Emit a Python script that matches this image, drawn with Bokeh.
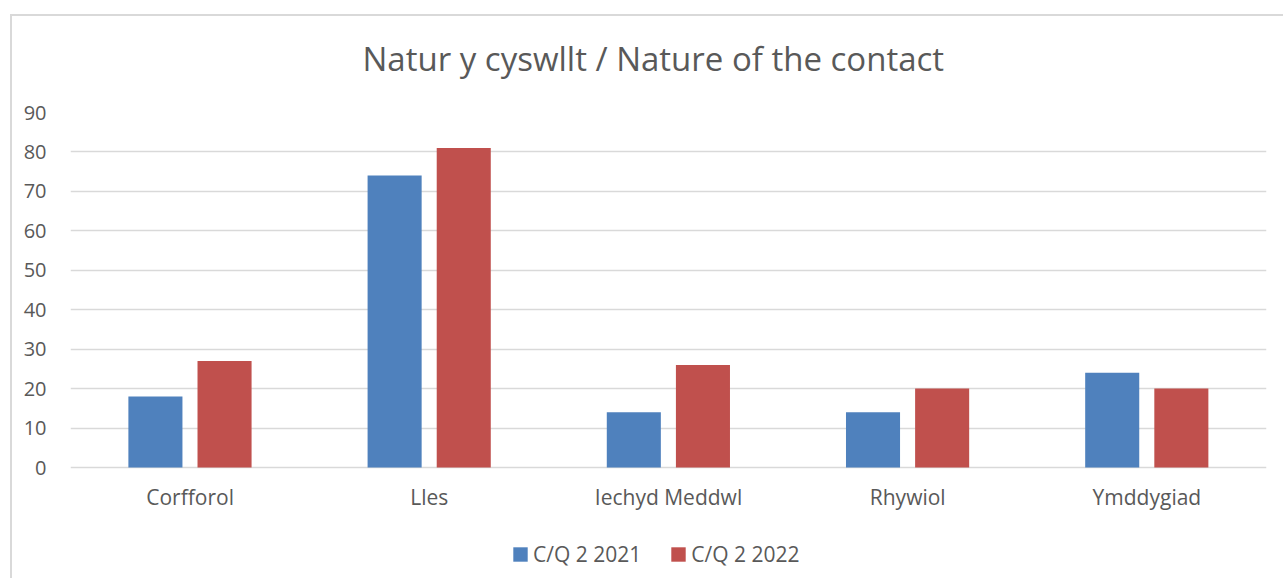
from bokeh.plotting import figure
from bokeh.models import (ColumnDataSource, FactorRange, Range1d, FixedTicker,
                          Legend, LegendItem)
from bokeh.transform import dodge
from bokeh.embed import file_html
from bokeh.resources import INLINE

categories = ["Corfforol", "Lles", "Iechyd Meddwl", "Rhywiol", "Ymddygiad"]
series_names = ["C/Q 2 2021", "C/Q 2 2022"]
values_2021 = [18, 74, 14, 14, 24]
values_2022 = [27, 81, 26, 20, 20]
y_ticks = [0, 10, 20, 30, 40, 50, 60, 70, 80, 90]
title_text = "Natur y cyswllt / Nature of the contact"

FONT = "Open Sans"
TXT = "#595959"
BLUE = "#4F81BD"
RED = "#C0504D"

source = ColumnDataSource(dict(cat=categories, a=values_2021, b=values_2022))

W, H = 1283, 578
TOP = 112            # pixel of value 90
ZERO = 467           # pixel of value 0
per_unit = (ZERO - TOP) / 90.0
y_start = -(H - ZERO) / per_unit   # frame runs to the bottom edge

p = figure(width=W, height=H, x_range=FactorRange(*categories, range_padding=0),
           y_range=Range1d(y_start, 90), output_backend="svg",
           toolbar_location=None,
           min_border_left=70, min_border_right=17, min_border_top=TOP,
           min_border_bottom=0, title=title_text)
p.outline_line_color = None
p.background_fill_color = None
p.border_fill_color = None
line = "linear-gradient(#d9d9d9, #d9d9d9)"
p.styles = {
    "background": f"{line} 10px 14px / 2px 100% no-repeat, "
                  f"{line} 10px 14px / 100% 2px no-repeat, white",
}

p.title.align = "left"
p.title.offset = 292
p.title.standoff = 63
p.title.text_font = FONT
p.title.text_font_size = "33px"
p.title.text_font_style = "normal"
p.title.text_color = TXT

r1 = p.vbar(x=dodge("cat", -0.145, range=p.x_range), top="a", width=0.226,
            source=source, fill_color=BLUE, line_color=None)
r2 = p.vbar(x=dodge("cat", 0.144, range=p.x_range), top="b", width=0.226,
            source=source, fill_color=RED, line_color=None)

p.xgrid.grid_line_color = None
p.ygrid.grid_line_color = "#d9d9d9"
p.ygrid.grid_line_width = 1.5
p.yaxis.ticker = FixedTicker(ticks=y_ticks)
p.xaxis.fixed_location = 0

for ax in (p.xaxis[0], p.yaxis[0]):
    ax.axis_line_color = None
    ax.major_tick_line_color = None
    ax.minor_tick_line_color = None
    ax.major_tick_out = 0
    ax.major_tick_in = 0
    ax.major_label_text_font = FONT
    ax.major_label_text_color = TXT
p.yaxis.major_label_text_font_size = "20px"
p.xaxis.major_label_text_font_size = "21px"
p.yaxis.major_label_standoff = 24
p.xaxis.major_label_standoff = 15

legend = Legend(items=[LegendItem(label=series_names[0], renderers=[r1]),
                       LegendItem(label=series_names[1], renderers=[r2])],
                orientation="horizontal", location=(441, 10),
                glyph_width=18, glyph_height=18, label_standoff=4, spacing=28,
                padding=0, margin=0, border_line_color=None,
                background_fill_alpha=0, label_text_font=FONT,
                label_text_font_size="21px", label_text_color=TXT)
p.add_layout(legend, "center")

open("out.html", "w").write(file_html(p, INLINE))
